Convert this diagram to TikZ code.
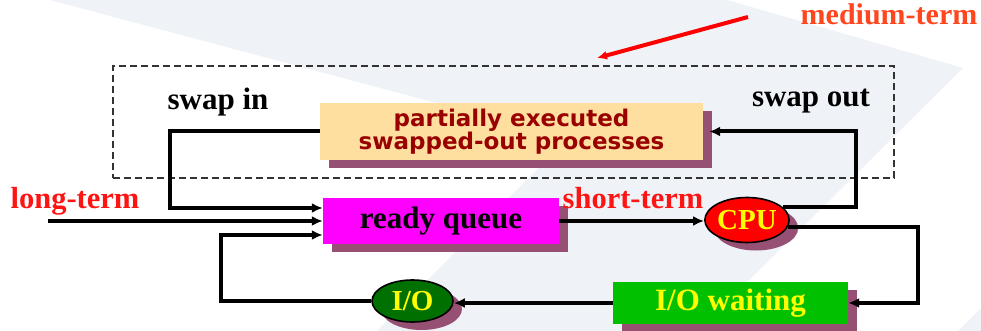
\documentclass[tikz,border=0pt]{standalone}
\usepackage{fontspec}
\setmainfont{Liberation Serif}
\newfontfamily\boxfont{DejaVu Sans}
\usetikzlibrary{arrows.meta,shapes.geometric,shadows}

\definecolor{bgtint}{RGB}{239,243,247}
\definecolor{shade}{RGB}{150,80,115}
\definecolor{peach}{RGB}{255,223,160}
\definecolor{darkred}{RGB}{153,0,0}
\definecolor{queuefill}{RGB}{255,0,255}
\definecolor{cpufill}{RGB}{255,0,0}
\definecolor{iofill}{RGB}{0,112,0}
\definecolor{waitfill}{RGB}{0,192,0}
\definecolor{txtyellow}{RGB}{255,255,0}
\definecolor{lblred}{RGB}{255,20,20}
\definecolor{medred}{RGB}{255,70,30}

\begin{document}
\begin{tikzpicture}[x=1pt,y=-1pt,
  shadowed/.style={drop shadow={shadow xshift=9pt,shadow yshift=-8pt,fill=shade,opacity=1}},
  boxnode/.style={rectangle,inner sep=0pt,shadowed},
  ovalnode/.style={ellipse,draw=black,line width=1.6pt,inner sep=0pt,shadowed},
  conn/.style={line width=4pt,-{Latex[length=11pt,width=10pt]}},
  medarrow/.style={line width=4pt,red,-{Latex[length=10pt,width=9pt]}},
  dashbox/.style={draw=black!80,line width=2.4pt,dash pattern=on 7pt off 4pt,inner sep=0pt},
  lbl/.style={anchor=base,inner sep=0pt,font=\fontsize{31}{31}\selectfont\bfseries},
  redlbl/.style={anchor=base,inner sep=0pt,text=lblred,font=\fontsize{30.5}{30.5}\selectfont\bfseries},
]
% page and slide background
\fill[white] (0,0) rectangle (981,331);
\useasboundingbox (0,0) rectangle (981,331);
\fill[bgtint] (50,0) -- (727,0) -- (963,68) -- (698,331) -- (377,331) -- (568,138) -- cycle;
\fill[bgtint] (958,331) -- (981,308) -- (981,331) -- cycle;

% medium-term region
\node[dashbox,minimum width=781pt,minimum height=112pt] (medbox) at (503.5,122) {};

% queues and devices
\node[boxnode,fill=peach,minimum width=383pt,minimum height=57pt,text=darkred,align=center,
      font=\boxfont\fontsize{23}{22}\selectfont\bfseries] (swapped) at (511.5,131.5)
      {partially executed\\swapped-out processes};
\node[boxnode,fill=queuefill,minimum width=236pt,minimum height=46pt,
      font=\fontsize{31}{31}\selectfont\bfseries] (ready) at (441,221) {ready queue};
\node[ovalnode,fill=cpufill,minimum width=80pt,minimum height=45pt,text=txtyellow,
      font=\fontsize{29}{29}\selectfont\bfseries] (cpu) at (747,220) {CPU};
\node[ovalnode,fill=iofill,minimum width=81pt,minimum height=42pt,text=txtyellow,
      font=\fontsize{29}{29}\selectfont\bfseries] (io) at (412.5,301) {I/O};
\node[boxnode,fill=waitfill,minimum width=235pt,minimum height=42pt,text=txtyellow,
      font=\fontsize{31}{31}\selectfont\bfseries] (waiting) at (730.5,303) {I/O waiting};

% labels
\node[lbl] (swapinlbl) at (218,110) {swap in};
\node[lbl] (swapoutlbl) at (811,107) {swap out};
\node[redlbl] (longlbl) at (75,208) {long-term};
\node[redlbl] (shortlbl) at (633,208) {short-term};
\node[lbl,text=medred,font=\fontsize{30}{30}\selectfont\bfseries] (medlbl) at (889,25) {medium-term};

% connectors
\coordinate (ltstart) at (48,221);
\coordinate (medstart) at (748,17);
\coordinate (medtip) at (597,58);

\draw[conn] (swapped.west) -- ++(-150,0) |- ([yshift=13pt]ready.west);
\draw[conn] (ltstart) -- (ready.west);
\draw[conn] (io.west) -- ++(-150,0) |- ([yshift=-14pt]ready.west);
\draw[conn] (ready.east) -- (ready.east -| cpu.west);
\draw[conn] (cpu.20) -- ++(73,0) |- ([xshift=6pt]swapped.east);
\draw[conn] (cpu.-10) -- ++(130,0) |- (waiting.east);
\draw[conn] (waiting.west) -- (waiting.west -| io.east);
\draw[medarrow] (medstart) -- (medtip);
\end{tikzpicture}
\end{document}
